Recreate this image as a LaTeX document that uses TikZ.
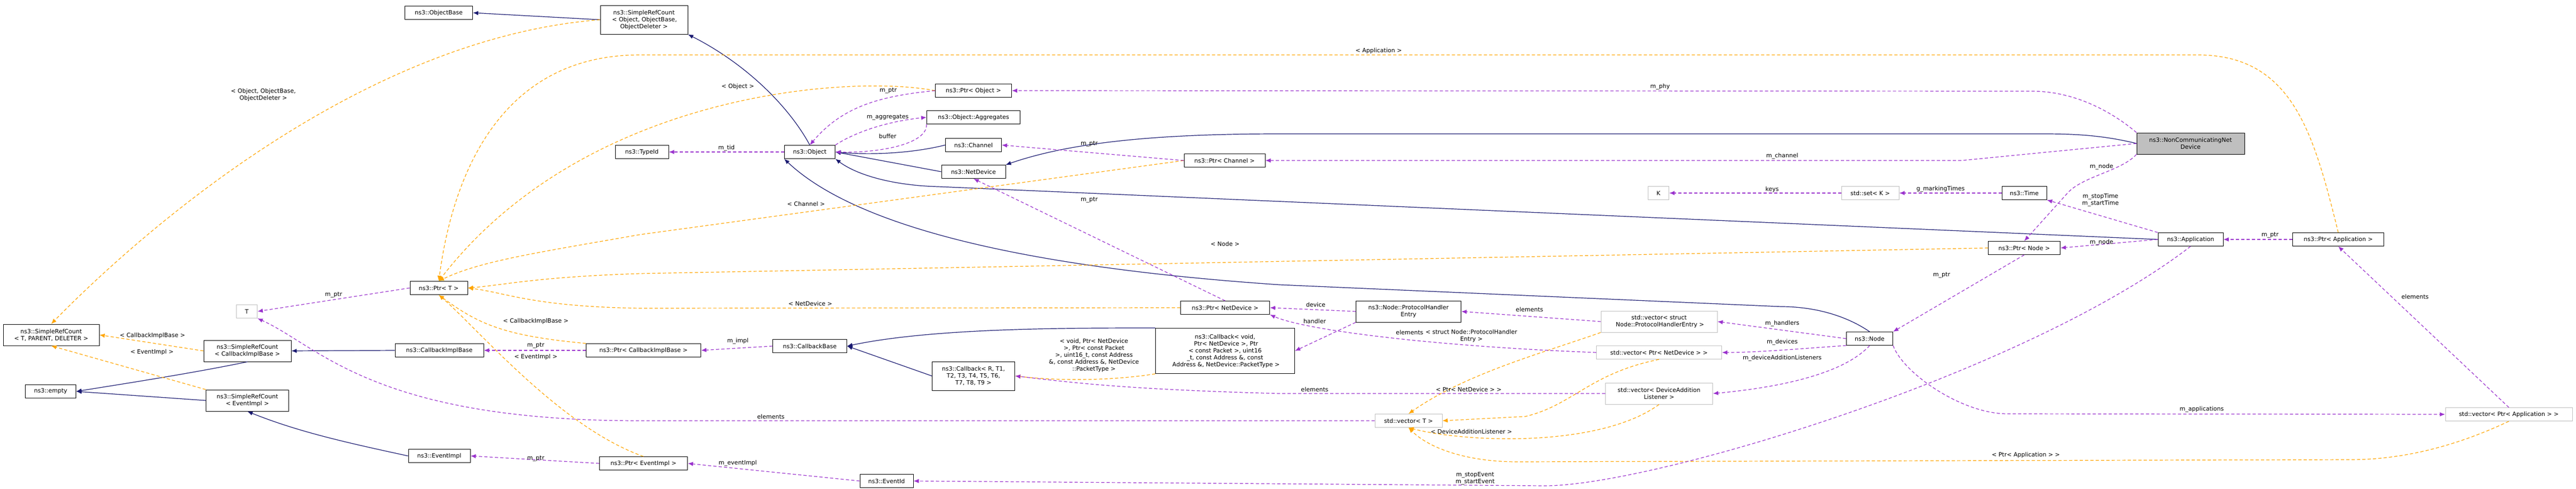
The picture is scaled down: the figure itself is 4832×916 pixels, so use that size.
\documentclass[tikz,border=0pt]{standalone}
\usepackage{fontspec}
\setmainfont{DejaVu Sans}
\usetikzlibrary{arrows.meta}
\definecolor{inhcol}{HTML}{191970}
\definecolor{usecol}{HTML}{9A32CD}
\definecolor{tplcol}{HTML}{FFA500}
\tikzstyle{cls}=[draw=black, fill=white, line width=1pt, inner sep=1pt, align=center, font=\fontsize{11}{13}\selectfont]
\tikzstyle{ext}=[cls, draw=black!25]
\tikzstyle{inh}=[draw=inhcol, line width=1.2pt, -{Latex[length=10pt,width=8pt]}]
\tikzstyle{use}=[draw=usecol, line width=1.2pt, dash pattern=on 6pt off 4pt, -{Latex[length=10pt,width=8pt]}]
\tikzstyle{tpl}=[draw=tplcol, line width=1.2pt, dash pattern=on 6pt off 4pt, -{Latex[length=10pt,width=8pt]}]
\tikzstyle{lbl}=[inner sep=0pt, align=center, font=\fontsize{11}{13}\selectfont]

\begin{document}
\begin{tikzpicture}[x=1pt, y=-1pt]
        \useasboundingbox (0,0) rectangle (4832,916);
        % classes
        \node[cls, minimum width=127, minimum height=25] (OB) at (823,24) {ns3::ObjectBase};
        \node[cls, minimum width=164, minimum height=54] (SRCO) at (1208,37) {ns3::SimpleRefCount\\\,< Object, ObjectBase,\\ObjectDeleter >};
        \node[cls, minimum width=143, minimum height=25] (PO) at (1826,170) {ns3::Ptr< Object >};
        \node[cls, minimum width=175, minimum height=25] (AGG) at (1826,220) {ns3::Object::Aggregates};
        \node[cls, minimum width=100, minimum height=25] (TID) at (1204,285) {ns3::TypeId};
        \node[cls, minimum width=95, minimum height=25] (OBJ) at (1519,285) {ns3::Object};
        \node[cls, minimum width=105, minimum height=25] (CH) at (1826,272) {ns3::Channel};
        \node[cls, minimum width=120, minimum height=25] (ND) at (1826,322) {ns3::NetDevice};
        \node[cls, minimum width=152, minimum height=25] (PCH) at (2297,301) {ns3::Ptr< Channel >};
        \node[cls, fill=black!25, minimum width=202, minimum height=40] (NCND) at (4109,269) {ns3::NonCommunicatingNet\\Device};
        \node[ext, minimum width=39, minimum height=25] (K) at (3111,362) {K};
        \node[ext, minimum width=108, minimum height=25] (SETK) at (3508,362) {std::set< K >};
        \node[cls, minimum width=84, minimum height=25] (TIME) at (3797,362) {ns3::Time};
        \node[cls, minimum width=122, minimum height=25] (APP) at (4109,449) {ns3::Application};
        \node[cls, minimum width=171, minimum height=25] (PAPP) at (4386,449) {ns3::Ptr< Application >};
        \node[cls, minimum width=135, minimum height=25] (PNODE) at (3797,465) {ns3::Ptr< Node >};
        \node[cls, minimum width=87, minimum height=25] (NODE) at (3507,635) {ns3::Node};
        \node[cls, minimum width=108, minimum height=25] (PT) at (823,540) {ns3::Ptr< T >};
        \node[ext, minimum width=39, minimum height=25] (T) at (463,584) {T};
        \node[cls, minimum width=180, minimum height=40] (SRCT) at (96,628) {ns3::SimpleRefCount\\< T, PARENT, DELETER >};
        \node[cls, minimum width=164, minimum height=40] (SRCC) at (464,658) {ns3::SimpleRefCount\\< CallbackImplBase >};
        \node[cls, minimum width=95, minimum height=25] (EMPTY) at (95,734) {ns3::empty};
        \node[cls, minimum width=155, minimum height=40] (SRCE) at (464,751) {ns3::SimpleRefCount\\< EventImpl >};
        \node[cls, minimum width=166, minimum height=25] (CIB) at (824,657) {ns3::CallbackImplBase};
        \node[cls, minimum width=215, minimum height=25] (PCIB) at (1207,657) {ns3::Ptr< CallbackImplBase >};
        \node[cls, minimum width=116, minimum height=25] (EI) at (824,855) {ns3::EventImpl};
        \node[cls, minimum width=165, minimum height=25] (PEI) at (1207,869) {ns3::Ptr< EventImpl >};
        \node[cls, minimum width=100, minimum height=25] (EID) at (1663,902) {ns3::EventId};
        \node[cls, minimum width=139, minimum height=25] (CB) at (1519,649) {ns3::CallbackBase};
        \node[cls, minimum width=155, minimum height=54] (CBR) at (1826,705) {ns3::Callback< R, T1,\\T2, T3, T4, T5, T6,\\T7, T8, T9 >};
        \node[cls, minimum width=261, minimum height=85] (CBV) at (2298,658) {ns3::Callback< void,\\\ Ptr< NetDevice >, Ptr\\< const Packet >, uint16\\\_t, const Address \&, const\\\ Address \&, NetDevice::PacketType >};
        \node[cls, minimum width=167, minimum height=25] (PND) at (2298,577) {ns3::Ptr< NetDevice >};
        \node[cls, minimum width=197, minimum height=40] (PHE) at (2642,584) {ns3::Node::ProtocolHandler\\Entry};
        \node[ext, minimum width=218, minimum height=40] (VPHE) at (3112,603) {std::vector< struct\\\ Node::ProtocolHandlerEntry >};
        \node[ext, minimum width=235, minimum height=25] (VPND) at (3112,661) {std::vector< Ptr< NetDevice > >};
        \node[ext, minimum width=201, minimum height=40] (VDAL) at (3112,738) {std::vector< DeviceAddition\\Listener >};
        \node[ext, minimum width=126, minimum height=25] (VT) at (2642,789) {std::vector< T >};
        \node[ext, minimum width=238, minimum height=25] (VPAPP) at (4706,777) {std::vector< Ptr< Application > >};

        % inheritance
        \draw[inh] (SRCO.west) -- (OB.east);
        \draw[inh] (OBJ.north) .. controls (1480,200) and (1400,120) .. (SRCO.south east);
        \draw[inh] (CH.west) .. controls (1700,290) and (1620,290) .. (OBJ.east);
        \draw[inh] (ND.west) -- (OBJ.east);
        \draw[inh] (NCND.west) .. controls (3950,255) and (3900,251) .. (3835,251) -- (2400,251) .. controls (2150,251) and (2000,270) .. (ND.north east);
        \draw[inh] (APP.west) -- (1760,350) .. controls (1680,348) and (1610,330) .. (OBJ.south east);
        \draw[inh] (NODE.north) .. controls (3460,590) and (3400,575) .. (3341,575) -- (2400,534) .. controls (1900,500) and (1600,420) .. (OBJ.south west);
        \draw[inh] (SRCC.south) .. controls (360,700) and (230,720) .. (EMPTY.east);
        \draw[inh] (SRCE.west) -- (EMPTY.east);
        \draw[inh] (CIB.west) -- (SRCC.east);
        \draw[inh] (EI.west) .. controls (650,830) and (560,810) .. (SRCE.south);
        \draw[inh] (CBR.west) -- (CB.east);
        \draw[inh] (CBV.north west) .. controls (2000,615) and (1750,615) .. (CB.east);

        % template instances
        \draw[tpl] (SRCO.west) .. controls (700,70) and (300,400) .. (SRCT.north);
        \node[lbl] at (494,178) {< Object, ObjectBase,\\ObjectDeleter >};
        \draw[tpl] (PO.west) .. controls (1600,140) and (1100,170) .. (PT.north);
        \node[lbl] at (1384,162) {< Object >};
        \draw[tpl] (PCH.west) -- (1200,440) .. controls (1000,475) and (900,490) .. (PT.north);
        \node[lbl] at (1512,382) {< Channel >};
        \draw[tpl] (PNODE.west) -- (1200,513) .. controls (1000,520) and (950,534) .. (PT.east);
        \node[lbl] at (2298,457) {< Node >};
        \draw[tpl] (PND.west) -- (1200,578) .. controls (1000,575) and (950,549) .. (PT.east);
        \node[lbl] at (1520,569) {< NetDevice >};
        \draw[tpl] (PAPP.north) .. controls (4340,250) and (4300,103) .. (4122,103) -- (1200,103) .. controls (900,103) and (840,400) .. (PT.north);
        \node[lbl] at (2586,95) {< Application >};
        \draw[tpl] (PCIB.north west) .. controls (950,630) and (900,610) .. (PT.south);
        \node[lbl] at (1005,602) {< CallbackImplBase >};
        \draw[tpl] (PEI.north) .. controls (1050,800) and (900,620) .. (PT.south);
        \node[lbl] at (1005,669) {< EventImpl >};
        \draw[tpl] (SRCC.west) -- (SRCT.east);
        \node[lbl] at (286,629) {< CallbackImplBase >};
        \draw[tpl] (SRCE.north west) -- (SRCT.south);
        \node[lbl] at (285,660) {< EventImpl >};
        \draw[tpl] (CBV.south west) .. controls (2100,712) and (2000,716) .. (CBR.east);
        \node[lbl] at (2052,666) {< void, Ptr< NetDevice\\>, Ptr< const Packet\\>, uint16\_t, const Address\\\&, const Address \&, NetDevice\\::PacketType >};
        \draw[tpl] (VPHE.south west) .. controls (2900,660) and (2750,700) .. (VT.north);
        \node[lbl] at (2760,630) {< struct Node::ProtocolHandler\\Entry >};
        \draw[tpl] (VPND.south) .. controls (2982,700) and (2950,760) .. (2861,781) -- (VT.east);
        \node[lbl] at (2755,730) {< Ptr< NetDevice > >};
        \draw[tpl] (VDAL.south) .. controls (3000,840) and (2750,830) .. (VT.south);
        \node[lbl] at (2760,809) {< DeviceAdditionListener >};
        \draw[tpl] (VPAPP.south) .. controls (4600,840) and (4500,862) .. (4409,862) -- (2846,866) .. controls (2750,866) and (2680,840) .. (VT.south);
        \node[lbl] at (3800,853) {< Ptr< Application > >};

        % usage
        \draw[use] (PT.west) -- (T.east) node[lbl, midway, above=3pt] {m\_ptr};
        \draw[use] (PO.west) .. controls (1650,180) and (1580,200) .. (OBJ.north);
        \node[lbl] at (1666,170) {m\_ptr};
        \draw[use] (OBJ.north east) .. controls (1600,250) and (1660,228) .. (AGG.west);
        \node[lbl] at (1665,220) {m\_aggregates};
        \draw[use] (AGG.south west) .. controls (1740,270) and (1650,287) .. (OBJ.east);
        \node[lbl] at (1665,255) {buffer};
        \draw[use] (OBJ.west) -- (TID.east) node[lbl, midway, above=1pt] {m\_tid};
        \draw[use] (PCH.west) -- (CH.east);
        \node[lbl] at (2043,270) {m\_ptr};
        \draw[use] (NCND.north west) .. controls (3950,200) and (3880,171) .. (3812,171) -- (PO.east);
        \node[lbl] at (3114,163) {m\_phy};
        \draw[use] (NCND.west) -- (3679,301) -- (PCH.east);
        \node[lbl] at (3343,293) {m\_channel};
        \draw[use] (NCND.south west) .. controls (3980,320) and (3910,330) .. (3880,360) -- (PNODE.north);
        \node[lbl] at (3942,313) {m\_node};
        \draw[use] (PND.north) -- (ND.south);
        \node[lbl] at (2043,375) {m\_ptr};
        \draw[use] (PCIB.west) -- (CIB.east);
        \node[lbl] at (1005,648) {m\_ptr};
        \draw[use] (CB.west) -- (PCIB.east);
        \node[lbl] at (1384,640) {m\_impl};
        \draw[use] (EID.west) -- (PEI.east);
        \node[lbl] at (1384,869) {m\_eventImpl};
        \draw[use] (PEI.west) -- (EI.east);
        \node[lbl] at (1005,860) {m\_ptr};
        \draw[use] (VT.west) -- (1200,789) .. controls (700,789) and (600,650) .. (T.south east);
        \node[lbl] at (1446,781) {elements};
        \draw[use] (PHE.west) -- (PND.east);
        \node[lbl] at (2468,571) {device};
        \draw[use] (PHE.south west) -- (CBV.east);
        \node[lbl] at (2466,602) {handler};
        \draw[use] (VPND.west) .. controls (2700,650) and (2450,620) .. (PND.south east);
        \node[lbl] at (2644,623) {elements};
        \draw[use] (VDAL.west) -- (2400,738) .. controls (2100,730) and (2000,716) .. (CBR.east);
        \node[lbl] at (2466,730) {elements};
        \draw[use] (VPHE.west) -- (PHE.east);
        \node[lbl] at (2869,580) {elements};
        \draw[use] (NODE.west) -- (VPHE.east);
        \node[lbl] at (3343,607) {m\_handlers};
        \draw[use] (NODE.south west) .. controls (3400,652) and (3300,661) .. (VPND.east);
        \node[lbl] at (3343,642) {m\_devices};
        \draw[use] (NODE.south) .. controls (3450,710) and (3300,730) .. (VDAL.east);
        \node[lbl] at (3343,672) {m\_deviceAdditionListeners};
        \draw[use] (NODE.south east) .. controls (3570,700) and (3680,776) .. (3765,776) -- (VPAPP.west);
        \node[lbl] at (4130,768) {m\_applications};
        \draw[use] (PNODE.south) -- (NODE.north east);
        \node[lbl] at (3642,516) {m\_ptr};
        \draw[use] (SETK.west) -- (K.east);
        \node[lbl] at (3324,355) {keys};
        \draw[use] (TIME.west) -- (SETK.east);
        \node[lbl] at (3640,355) {g\_markingTimes};
        \draw[use] (APP.north west) -- (TIME.south east);
        \node[lbl] at (3940,375) {m\_stopTime\\m\_startTime};
        \draw[use] (APP.west) -- (PNODE.east);
        \node[lbl] at (3942,455) {m\_node};
        \draw[use] (PAPP.west) -- (APP.east);
        \node[lbl] at (4258,441) {m\_ptr};
        \draw[use] (VPAPP.north) -- (PAPP.south);
        \node[lbl] at (4530,556) {elements};
        \draw[use] (APP.south) .. controls (3800,700) and (3100,911) .. (2898,911) -- (EID.east);
        \node[lbl] at (2767,897) {m\_stopEvent\\m\_startEvent};
    \end{tikzpicture}
\end{document}
